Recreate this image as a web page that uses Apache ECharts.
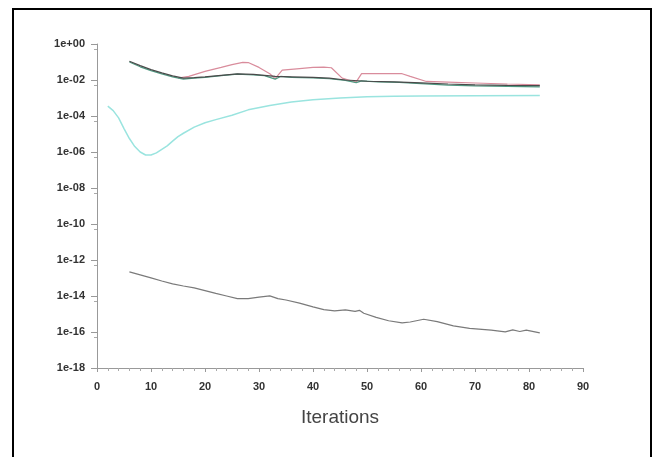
<!DOCTYPE html>
<html><head><meta charset="utf-8">
<script src="https://cdn.jsdelivr.net/npm/echarts@6/dist/echarts.min.js"></script>
<style>
html,body{margin:0;padding:0;background:#fff;overflow:hidden}
#frame{position:absolute;left:12px;top:8px;width:640px;height:470px;border:2px solid #000;box-sizing:border-box}
#c{position:absolute;left:0;top:0;width:669px;height:457px}
</style></head>
<body>
<div id="frame"></div>
<div id="c"></div>
<script>
// x ticks / categories
const xTicks = [0,10,20,30,40,50,60,70,80,90];
const yTickExponents = [0,-2,-4,-6,-8,-10,-12,-14,-16,-18];

const blackIter = [6,8,10,12,14,16,18,20,23,26,29,31,33,36,40,43,46,50,55,60,65,70,76,82];
const blackVal  = [0.11,0.063,0.038,0.025,0.017,0.0126,0.0135,0.0148,0.018,0.022,0.0204,0.018,0.0158,0.0151,0.0141,0.0126,0.01,0.0085,0.0079,0.0069,0.006,0.0054,0.005,0.0049];

const greenIter = [6,8,10,12,14,16,18,20,23,26,29,31,33,34,36,40,43,46,48,49,52,56,60,65,70,76,82];
const greenVal  = [0.1,0.054,0.033,0.022,0.015,0.0112,0.0126,0.0141,0.0174,0.021,0.019,0.0174,0.0112,0.0158,0.0141,0.0132,0.0117,0.0095,0.0071,0.0089,0.0079,0.0074,0.0063,0.0052,0.0047,0.0044,0.0042];

const redIter = [15,17,20,23,25,27,28,30,32,33,34.3,37,40,42,43.4,45.4,47,48,49,53,56.5,58,61,65,70,76,82];
const redVal  = [0.0126,0.0158,0.03,0.05,0.071,0.095,0.093,0.05,0.0224,0.012,0.035,0.042,0.05,0.052,0.048,0.0126,0.0089,0.0079,0.0224,0.023,0.0224,0.0158,0.0083,0.0076,0.0068,0.006,0.0054];

const cyanIter = [2,3,4,5,6,7,8,9,10,11,12,13,14,15,16,18,20,22,25,28,32,36,40,45,50,55,60,70,82];
const cyanVal  = [3.5e-4,2e-4,7.9e-5,2e-5,5.6e-6,2e-6,1e-6,6.8e-7,6.8e-7,8.9e-7,1.4e-6,2.2e-6,4e-6,7.1e-6,1.1e-5,2.4e-5,4.2e-5,6.3e-5,1.1e-4,2.2e-4,3.8e-4,6e-4,7.9e-4,1e-3,1.17e-3,1.26e-3,1.3e-3,1.35e-3,1.38e-3];

const grayIter = [6,8,10,12,14,16,18,20,22,24,26,28,30,32,33.5,35,37.5,40,42,44,46,47.8,48.6,49.4,51.7,54,56.5,58,60.5,63,66,69,73,75.6,77,78.3,79.5,82];
const grayVal  = [2.2e-13,1.5e-13,1.02e-13,6.8e-14,4.7e-14,3.6e-14,2.8e-14,2e-14,1.4e-14,1e-14,7.2e-15,7.2e-15,8.7e-15,1.02e-14,7.2e-15,6e-15,4e-15,2.5e-15,1.74e-15,1.5e-15,1.7e-15,1.4e-15,1.6e-15,1.1e-15,6.5e-16,4.2e-16,3.2e-16,3.6e-16,5.1e-16,3.8e-16,2.2e-16,1.6e-16,1.26e-16,1.02e-16,1.3e-16,1.07e-16,1.26e-16,8.9e-17];

function pairs(xs, ys){ return xs.map((x,i)=>[x, ys[i]]); }

const chart = echarts.init(document.getElementById('c'), null, {renderer:'canvas'});
const lineS = (name, xs, ys, color, w) => ({
  name, type:'line', data: pairs(xs, ys), showSymbol:false, smooth:false,
  lineStyle:{color, width:w}, itemStyle:{color}, z: 2
});
chart.setOption({
  animation:false,
  backgroundColor:'transparent',
  grid:{left:97, right:86, top:44, bottom:89, containLabel:false},
  xAxis:{
    type:'value', min:xTicks[0], max:xTicks[xTicks.length-1], interval:10,
    name:'Iterations', nameLocation:'middle', nameGap:40,
    nameTextStyle:{fontFamily:'Liberation Sans, Arial, sans-serif', fontSize:19, color:'#444'},
    axisLine:{show:true, lineStyle:{color:'#999', width:1}},
    axisTick:{show:true, inside:false, length:4, lineStyle:{color:'#999'}},
    minorTick:{show:true, splitNumber:5, length:3, lineStyle:{color:'#aaa'}},
    splitLine:{show:false},
    axisLabel:{color:'#333', fontFamily:'Liberation Sans, Arial, sans-serif', fontSize:11, fontWeight:'bold', margin:13}
  },
  yAxis:{
    type:'log', logBase:10, min:Math.pow(10, yTickExponents[yTickExponents.length-1]), max:Math.pow(10, yTickExponents[0]),
    splitNumber:9, interval:2,
    axisLine:{show:true, lineStyle:{color:'#999', width:1}},
    axisTick:{show:true, length:6, lineStyle:{color:'#999'}},
    minorTick:{show:true, splitNumber:2, length:3, lineStyle:{color:'#aaa'}},
    splitLine:{show:false},
    axisLabel:{color:'#333', fontFamily:'Liberation Sans, Arial, sans-serif', fontSize:11, fontWeight:'bold', margin:12,
      formatter:function(v){ const e=Math.round(Math.log10(v)); return '1e'+(e>=0?'+':'-')+String(Math.abs(e)).padStart(2,'0'); }}
  },
  series:[
    lineS('cyan', cyanIter, cyanVal, '#9ae4df', 1.5),
    lineS('red', redIter, redVal, '#d98c9c', 1.2),
    lineS('green', greenIter, greenVal, '#4f9a82', 1.2),
    lineS('black', blackIter, blackVal, '#4a4a4a', 1.2),
    lineS('gray', grayIter, grayVal, '#7a7a7a', 1.2)
  ]
});
</script>
</body></html>
